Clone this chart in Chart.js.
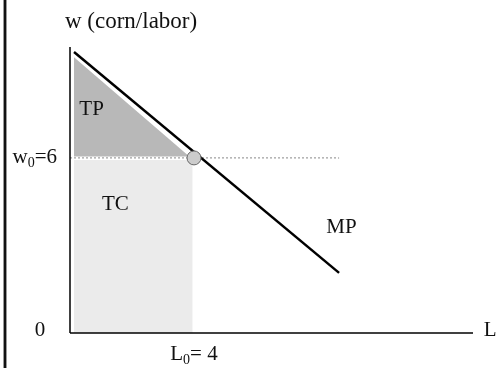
<!DOCTYPE html>
<html>
<head>
<meta charset="utf-8">
<script src="https://cdn.jsdelivr.net/npm/chart.js@4.4.1/dist/chart.umd.min.js"></script>
<style>
  html, body { margin: 0; padding: 0; background: #fff; }
  #wrap { position: relative; width: 499px; height: 368px; }
  #edge { position: absolute; left: 4px; top: 0; width: 2px; height: 368px; background: #111;
          box-shadow: -1px 0 0 #999, 1px 0 0 #999; }
  canvas { position: absolute; left: 0; top: 0; }
</style>
</head>
<body>
<div id="wrap">
  <canvas id="labor-chart" width="499" height="368"></canvas>
  <div id="edge"></div>
</div>
<script>
// axis range
const xMax = 13;
const yMax = 9.8;

// marginal product line (end points)
const mpL = [0.13, 8.68];
const mpW = [9.63, 2.06];

// equilibrium
const L0 = 4;
const w0 = 6;

// shaded areas
const tpL = [0.13, 3.85, 0.13];
const tpW = [9.45, 6.05, 6.05];
const tcL = [0.13, 0.13, 3.95, 3.95];
const tcW = [0, 5.93, 5.93, 0];

// wage guide line
const guideL = [0, 8.68];

const pts = (xs, ys) => xs.map((x, i) => ({ x: x, y: ys[i] }));

const FONT = '"Liberation Serif", "DejaVu Serif", serif';

// text with a subscript part: [main, sub, rest]
function drawSub(ctx, parts, x, y, size, align) {
  const small = Math.round(size * 0.65);
  ctx.font = size + 'px ' + FONT;
  const w1 = ctx.measureText(parts[0]).width;
  const w3 = ctx.measureText(parts[2]).width;
  ctx.font = small + 'px ' + FONT;
  const w2 = ctx.measureText(parts[1]).width;
  const total = w1 + w2 + w3;
  let sx = x;
  if (align === 'center') sx = x - total / 2;
  if (align === 'right') sx = x - total;
  ctx.textAlign = 'left';
  ctx.font = size + 'px ' + FONT;
  ctx.fillText(parts[0], sx, y);
  ctx.fillText(parts[2], sx + w1 + w2, y);
  ctx.font = small + 'px ' + FONT;
  ctx.fillText(parts[1], sx + w1, y + size * 0.25);
}

const labels = {
  id: 'labels',
  afterDatasetsDraw(chart) {
    const ctx = chart.ctx;
    const xs = chart.scales.x, ys = chart.scales.y;
    const px = v => xs.getPixelForValue(v);
    const py = v => ys.getPixelForValue(v);
    ctx.save();
    ctx.fillStyle = '#111';
    ctx.textBaseline = 'middle';

    ctx.font = '23px ' + FONT;
    ctx.textAlign = 'center';
    ctx.fillText('w (corn/labor)', px(1.97), py(10.66));

    ctx.font = '21px ' + FONT;
    ctx.fillText('0', px(-0.97), py(0.1));
    ctx.textAlign = 'left';
    ctx.fillText('L', px(13.35), py(0.1));
    ctx.fillText('TP', px(0.3), py(7.65));
    ctx.fillText('TC', px(1.03), py(4.39));
    ctx.fillText('MP', px(8.27), py(3.6));

    drawSub(ctx, ['w', '0', '=6'], px(-0.42), py(w0), 21, 'right');
    drawSub(ctx, ['L', '0', '= 4'], px(L0), py(-0.75), 21, 'center');
    ctx.restore();
  }
};

new Chart(document.getElementById('labor-chart'), {
  type: 'scatter',
  data: {
    datasets: [
      {
        label: 'TC',
        data: pts(tcL, tcW),
        showLine: true,
        fill: 'shape',
        backgroundColor: '#ebebeb',
        borderWidth: 0,
        pointRadius: 0,
        order: 6
      },
      {
        label: 'TP',
        data: pts(tpL, tpW),
        showLine: true,
        fill: 'shape',
        backgroundColor: '#b8b8b8',
        borderWidth: 0,
        pointRadius: 0,
        order: 5
      },
      {
        label: 'w0',
        data: pts(guideL, [w0, w0]),
        showLine: true,
        borderColor: '#888',
        borderWidth: 1,
        borderDash: [2, 2],
        pointRadius: 0,
        order: 4
      },
      {
        label: 'axes-y',
        data: pts([0, 0], [0, yMax]),
        showLine: true,
        borderColor: '#000',
        borderWidth: 1.5,
        pointRadius: 0,
        clip: false,
        order: 3
      },
      {
        label: 'axes-x',
        data: pts([0, xMax], [0, 0]),
        showLine: true,
        borderColor: '#000',
        borderWidth: 1.5,
        pointRadius: 0,
        clip: false,
        order: 2
      },
      {
        label: 'MP',
        data: pts(mpL, mpW),
        showLine: true,
        borderColor: '#000',
        borderWidth: 2.5,
        pointRadius: 0,
        order: 1
      },
      {
        label: 'equilibrium',
        data: [{ x: L0, y: w0 }],
        backgroundColor: '#cccccc',
        borderColor: '#666',
        borderWidth: 1,
        pointRadius: 7,
        order: 0
      }
    ]
  },
  options: {
    responsive: false,
    animation: false,
    layout: { padding: { left: 70, right: 26, top: 47, bottom: 35 } },
    plugins: { legend: { display: false }, tooltip: { enabled: false } },
    scales: {
      x: { type: 'linear', min: 0, max: xMax, display: false },
      y: { type: 'linear', min: 0, max: yMax, display: false }
    }
  },
  plugins: [labels]
});
</script>
</body>
</html>
